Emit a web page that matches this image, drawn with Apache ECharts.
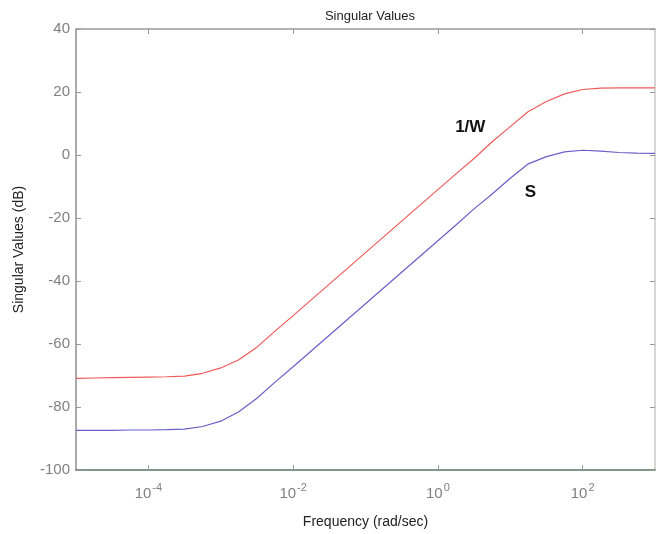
<!DOCTYPE html>
<html lang="en">
<head>
    <meta charset="UTF-8">
    <title>Singular Values</title>
    <script src="https://cdn.jsdelivr.net/npm/echarts@6/dist/echarts.min.js"></script>
</head>
<body style="margin:0;background:#fff">
<div id="main" style="width: 656px;height: 534px;"></div>
<script>
    // frequency grid (rad/sec), quarter-decade steps from 1e-5 to 1e3
    var freq = [1e-5, 1.778e-5, 3.162e-5, 5.623e-5, 1e-4, 1.778e-4, 3.162e-4, 5.623e-4,
        1e-3, 1.778e-3, 3.162e-3, 5.623e-3, 1e-2, 1.778e-2, 3.162e-2, 5.623e-2,
        1e-1, 0.1778, 0.3162, 0.5623, 1, 1.778, 3.162, 5.623,
        10, 17.78, 31.62, 56.23, 100, 177.8, 316.2, 562.3, 1000];
    // 1/W curve (dB)
    var invW = [-70.9, -70.8, -70.7, -70.6, -70.5, -70.4, -70.2, -69.3,
        -67.6, -65.0, -61.0, -55.9, -51.0, -46.0, -41.0, -36.0,
        -31.0, -26.0, -21.0, -16.0, -11.0, -6.0, -1.1, 4.2,
        9.0, 13.8, 17.0, 19.4, 20.8, 21.2, 21.3, 21.3, 21.3];
    // S curve (dB)
    var sens = [-87.4, -87.4, -87.4, -87.3, -87.3, -87.2, -87.0, -86.2,
        -84.5, -81.5, -77.2, -72.1, -67.2, -62.2, -57.2, -52.2,
        -47.2, -42.2, -37.2, -32.2, -27.2, -22.2, -17.1, -12.4,
        -7.4, -2.8, -0.5, 1.0, 1.5, 1.2, 0.8, 0.6, 0.5];
    var xTicks = [1e-4, 1e-2, 1, 100];
    var yTicks = [-100, -80, -60, -40, -20, 0, 20, 40];

    var font = 'Liberation Sans, Arial, sans-serif';
    var chart = echarts.init(document.getElementById('main'));

    function pairs(vals) {
        var out = [];
        for (var i = 0; i < freq.length; i++) {
            out.push([freq[i], vals[i]]);
        }
        return out;
    }

    // 10 with a raised exponent
    function xLabel(v) {
        var e = Math.round(Math.log10(v));
        return '{b|10}{e|' + e + '}';
    }

    var xCommon = {
        type: 'log',
        logBase: 10,
        min: 1e-5,
        max: 1e3,
        splitLine: {show: false},
        axisTick: {inside: true, length: 5, customValues: xTicks, lineStyle: {color: '#9a9a9a'}}
    };
    var yCommon = {
        type: 'value',
        min: -100,
        max: 40,
        interval: 20,
        splitLine: {show: false},
        axisTick: {inside: true, length: 5, lineStyle: {color: '#9a9a9a'}}
    };

    var option = {
        animation: false,
        backgroundColor: '#fff',
        title: {
            text: 'Singular Values',
            left: 365,
            textAlign: 'center',
            top: 5,
            textStyle: {fontFamily: font, fontSize: 13, fontWeight: 'normal', color: '#222'}
        },
        grid: {left: 76, right: 1, top: 29, bottom: 62},
        xAxis: [
            Object.assign({}, xCommon, {
                position: 'bottom',
                name: 'Frequency (rad/sec)',
                nameLocation: 'middle',
                nameGap: 45,
                nameTextStyle: {fontFamily: font, fontSize: 14, color: '#222'},
                axisLine: {onZero: false, lineStyle: {color: '#557766', width: 1.5}},
                axisLabel: {
                    margin: 12,
                    customValues: xTicks,
                    formatter: xLabel,
                    rich: {
                        b: {fontFamily: font, fontSize: 15, color: '#808080'},
                        e: {fontFamily: font, fontSize: 11, color: '#808080', padding: [0, 0, 12, 1]}
                    }
                }
            }),
            Object.assign({}, xCommon, {
                position: 'top',
                axisLine: {onZero: false, lineStyle: {color: '#9a9a9a', width: 1.5}},
                axisLabel: {show: false}
            })
        ],
        yAxis: [
            Object.assign({}, yCommon, {
                position: 'left',
                name: 'Singular Values (dB)',
                nameLocation: 'middle',
                nameGap: 50,
                nameTextStyle: {fontFamily: font, fontSize: 14, color: '#222'},
                axisLine: {onZero: false, lineStyle: {color: '#8f8f88', width: 1.5}},
                axisLabel: {
                    margin: 6,
                    fontFamily: font,
                    fontSize: 15,
                    color: '#808080',
                    formatter: function (v) {
                        return yTicks.indexOf(v) >= 0 ? String(v) : '';
                    }
                }
            }),
            Object.assign({}, yCommon, {
                position: 'right',
                axisLine: {onZero: false, lineStyle: {color: '#c8c8c8', width: 1.5}},
                axisLabel: {show: false}
            })
        ],
        series: [
            {
                name: '1/W',
                type: 'line',
                data: pairs(invW),
                showSymbol: false,
                smooth: false,
                lineStyle: {color: '#f05a5a', width: 1.2},
                markPoint: {
                    symbol: 'circle',
                    symbolSize: 0,
                    label: {
                        show: true,
                        position: 'inside',
                        formatter: '1/W',
                        fontFamily: font,
                        fontSize: 17,
                        fontWeight: 'bold',
                        color: '#111'
                    },
                    data: [{coord: [2.8, 8.7]}]
                }
            },
            {
                name: 'S',
                type: 'line',
                data: pairs(sens),
                showSymbol: false,
                smooth: false,
                lineStyle: {color: '#6a5fc8', width: 1.2},
                markPoint: {
                    symbol: 'circle',
                    symbolSize: 0,
                    label: {
                        show: true,
                        position: 'inside',
                        formatter: 'S',
                        fontFamily: font,
                        fontSize: 17,
                        fontWeight: 'bold',
                        color: '#111'
                    },
                    data: [{coord: [19, -11.8]}]
                }
            }
        ]
    };
    chart.setOption(option);
</script>
</body>
</html>
